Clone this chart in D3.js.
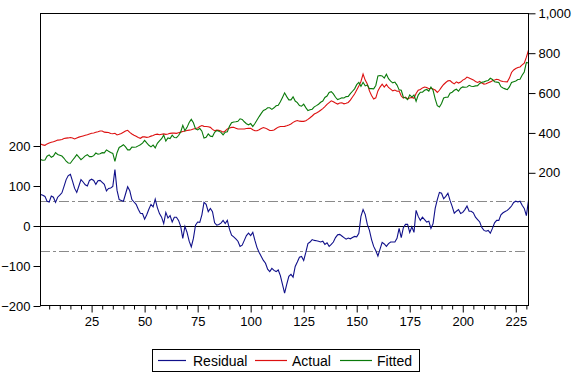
<!DOCTYPE html>
<html>
<head>
<meta charset="utf-8">
<script src="https://cdn.jsdelivr.net/npm/d3@7"></script>
<style>
  html, body { margin: 0; padding: 0; background: #ffffff; }
  svg { display: block; }
  text { font-family: "Liberation Sans", Arial, sans-serif; fill: #000; }
</style>
</head>
<body>
<svg id="chart" width="580" height="378"></svg>
<script>
// ---- Data (observations 1..231) ----
const actual = [
345,340,338,345,350,353,356,360,364,365,367,372,374,375,377,375,370,375,379,382,
385,388,391,395,398,400,403,406,410,410,404,403,402,397,396,398,390,393,397,403,
410,413,403,395,388,383,377,373,380,380,378,380,384,387,392,394,391,393,395,393,
395,398,399,399,398,401,404,407,410,412,414,416,420,422,425,432,437,433,432,431,
428,418,411,414,413,410,404,410,420,425,428,428,424,420,420,420,420,422,423,423,
416,411,411,416,422,427,424,418,412,412,415,422,429,432,432,433,436,440,445,453,
459,462,459,458,458,461,468,476,485,495,500,506,514,522,532,543,552,561,556,550,
545,550,551,546,549,553,565,580,595,615,635,658,695,665,645,611,588,570,576,611,
630,645,630,643,628,620,611,615,609,610,585,575,580,571,575,578,574,598,614,618,
626,630,628,622,624,620,615,603,614,630,643,653,661,663,653,646,656,650,655,665,
670,680,676,671,666,658,653,658,650,645,647,652,656,662,665,669,667,660,658,657,
656,675,703,716,723,728,731,741,750,780,815
];
const fitted = [
266,263,264,283,290,278,284,301,292,288,284,273,258,249,248,263,276,291,279,266,
275,285,291,281,281,286,299,293,296,301,300,315,308,302,297,257,301,327,333,341,
330,315,315,329,328,329,335,341,349,363,350,338,330,339,325,348,360,371,389,359,
375,372,389,377,376,387,405,438,411,428,452,468,451,420,415,423,409,374,378,395,
384,382,403,412,409,403,390,404,406,433,451,455,456,458,471,468,456,446,441,447,
432,447,465,482,498,513,517,526,526,518,526,536,539,556,578,601,582,566,566,581,
560,552,537,534,544,527,512,516,519,531,537,544,554,560,578,585,603,607,596,579,
567,571,576,575,582,583,597,609,621,642,653,634,654,636,641,622,622,621,638,686,
688,686,675,694,672,660,651,655,640,616,614,579,576,567,591,580,590,559,590,604,
604,614,618,610,630,614,571,537,530,548,575,579,579,599,604,614,619,609,624,631,
629,630,639,634,633,636,637,648,654,656,660,663,674,668,657,655,653,632,625,621,
617,631,653,657,661,668,669,689,706,754,751
];
const residual = [
79,77,74,62,60,75,72,59,72,77,83,99,116,126,129,112,94,84,100,116,
110,103,100,114,117,114,104,113,114,109,104,88,94,95,99,141,89,66,64,62,
80,98,88,66,60,54,42,32,31,17,28,42,54,48,67,46,31,22,6,34,
20,26,10,22,22,14,-1,-31,-1,-16,-38,-52,-31,2,10,9,28,59,54,36,
44,36,8,2,4,7,14,6,14,-8,-23,-27,-32,-38,-51,-48,-36,-24,-18,-24,
-16,-36,-54,-66,-76,-86,-93,-108,-114,-106,-111,-114,-110,-124,-146,-168,-146,-126,-121,-128,
-101,-90,-78,-76,-86,-66,-44,-40,-34,-36,-37,-38,-40,-38,-46,-42,-51,-46,-40,-29,
-22,-21,-25,-29,-33,-30,-32,-29,-26,-27,-18,24,41,29,4,-11,-34,-51,-62,-75,
-58,-41,-45,-51,-44,-40,-40,-40,-31,-6,-29,-4,4,4,-16,-2,-16,39,24,14,
22,16,10,12,-6,6,44,66,84,82,68,74,82,64,49,32,37,41,31,34,
41,50,37,37,33,22,16,10,-4,-11,-13,-11,-18,-6,8,14,14,28,33,36,
39,44,50,59,62,60,62,52,44,26,64
];
const seSigma = 62;                       // +/- 1 S.E. band of the residual
const leftTicks = [-200, -100, 0, 100, 200];
const rightTicks = [200, 400, 600, 800, 1000];
const xMajorTicks = [25, 50, 75, 100, 125, 150, 175, 200, 225];
const legendNames = ["Residual", "Actual", "Fitted"];
const seriesColors = ["#10108a", "#dd1010", "#0a7a0a"];

// ---- Layout ----
const svg = d3.select("#chart");
const L = 40, R = 529, T = 13, B = 306;
const n = actual.length;
const obs = d3.range(1, n + 1);

const x = d3.scaleLinear().domain([1, 231]).range([40.7, 528.5]);
const yL = d3.scaleLinear().domain([-200, 532.5]).range([B, T]);
const yR = d3.scaleLinear().domain([-468, 1001.5]).range([B, T]);

svg.append("defs").append("clipPath").attr("id", "clip")
  .append("rect").attr("x", L).attr("y", T).attr("width", R - L).attr("height", B - T);

const plot = svg.append("g").attr("clip-path", "url(#clip)");

// S.E. band lines
[seSigma, -seSigma].forEach(v => {
  plot.append("line")
    .attr("x1", L).attr("x2", R)
    .attr("y1", Math.round(yL(v)) + 0.5).attr("y2", Math.round(yL(v)) + 0.5)
    .attr("stroke", "#8a8a8a").attr("stroke-width", 1)
    .attr("stroke-dasharray", "10,3,3,3");
});
// zero line
plot.append("line")
  .attr("x1", L).attr("x2", R)
  .attr("y1", Math.round(yL(0)) + 0.5).attr("y2", Math.round(yL(0)) + 0.5)
  .attr("stroke", "#000").attr("stroke-width", 1);

const lineL = d3.line().x((d, i) => x(obs[i])).y(d => yL(d));
const lineR = d3.line().x((d, i) => x(obs[i])).y(d => yR(d));

plot.append("path").datum(residual).attr("d", lineL)
  .attr("fill", "none").attr("stroke", seriesColors[0]).attr("stroke-width", 1.1);
plot.append("path").datum(actual).attr("d", lineR)
  .attr("fill", "none").attr("stroke", seriesColors[1]).attr("stroke-width", 1.1);
plot.append("path").datum(fitted).attr("d", lineR)
  .attr("fill", "none").attr("stroke", seriesColors[2]).attr("stroke-width", 1.1);

// frame
svg.append("rect").attr("x", L + 0.5).attr("y", T + 0.5)
  .attr("width", R - L - 1).attr("height", B - T - 1)
  .attr("fill", "none").attr("stroke", "#000").attr("stroke-width", 1);

// Left axis
const axL = d3.axisLeft(yL).tickValues(leftTicks).tickSize(7).tickPadding(3).tickFormat(d3.format("d"));
const gL = svg.append("g").attr("transform", `translate(${L + 0.5},0)`).call(axL);
gL.select(".domain").remove();
gL.selectAll("text").attr("font-size", 13).attr("font-family", "Liberation Sans, Arial, sans-serif");

// Right axis
const axR = d3.axisRight(yR).tickValues(rightTicks).tickSize(7).tickPadding(3).tickFormat(d3.format(","));
const gR = svg.append("g").attr("transform", `translate(${R - 0.5},0)`).call(axR);
gR.select(".domain").remove();
gR.selectAll("text").attr("font-size", 13).attr("font-family", "Liberation Sans, Arial, sans-serif");

// Bottom axis: minor ticks every 5 obs, labelled major ticks every 25
const minor = d3.range(5, 231, 5).filter(v => v % 25 !== 0);
const axMinor = d3.axisBottom(x).tickValues(minor).tickSize(4).tickFormat("");
const gM = svg.append("g").attr("transform", `translate(0,${B - 0.5})`).call(axMinor);
gM.select(".domain").remove();
const axB = d3.axisBottom(x).tickValues(xMajorTicks).tickSize(7).tickPadding(4).tickFormat(d3.format("d"));
const gB = svg.append("g").attr("transform", `translate(0,${B - 0.5})`).call(axB);
gB.select(".domain").remove();
gB.selectAll("text").attr("font-size", 13).attr("font-family", "Liberation Sans, Arial, sans-serif");

// Legend
const lg = svg.append("g");
lg.append("rect").attr("x", 152.5).attr("y", 349.5).attr("width", 267).attr("height", 22)
  .attr("fill", "#fff").attr("stroke", "#000").attr("stroke-width", 1);
const legendX = [[158, 186, 193], [255, 287, 292], [340, 372, 377]];
legendNames.forEach((name, i) => {
  lg.append("line").attr("x1", legendX[i][0]).attr("x2", legendX[i][1])
    .attr("y1", 360.5).attr("y2", 360.5)
    .attr("stroke", seriesColors[i]).attr("stroke-width", 1.2);
  lg.append("text").attr("x", legendX[i][2]).attr("y", 365.5)
    .attr("font-size", 14).text(name);
});
</script>
</body>
</html>
